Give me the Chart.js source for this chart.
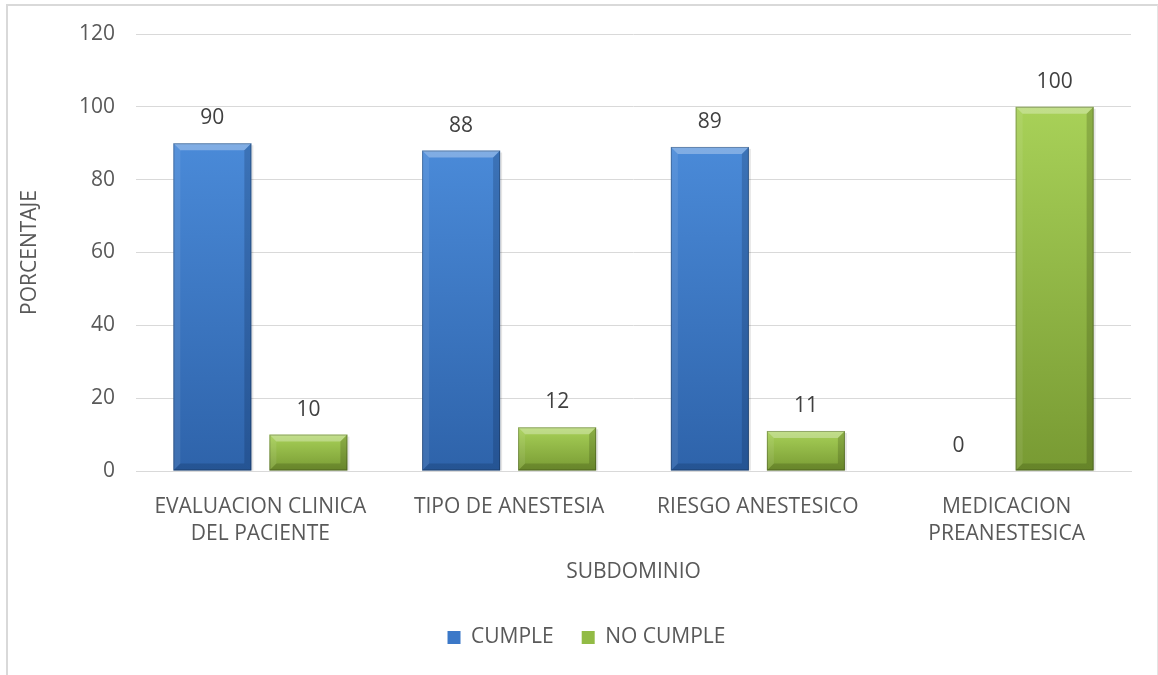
<!DOCTYPE html>
<html>
<head>
<meta charset="utf-8">
<script src="https://cdn.jsdelivr.net/npm/chart.js@4/dist/chart.umd.min.js"></script>
<style>
  body { margin: 0; background: #fff; }
  #frame {
    position: absolute; left: 6px; top: 4px; width: 1149px; height: 720px;
    border-left: 2px solid #d9d9d9; border-top: 2px solid #d9d9d9; border-right: 1px solid #e4e4e4;
  }
  #chart { position: absolute; left: 0; top: 0; }
</style>
</head>
<body>
<div id="frame"></div>
<canvas id="chart" width="1158" height="675"></canvas>
<script>
const categories = [
    ["EVALUACION CLINICA", "DEL PACIENTE"],
    "TIPO DE ANESTESIA",
    "RIESGO ANESTESICO",
    ["MEDICACION", "PREANESTESICA"]
];
const cumple = [90, 88, 89, 0];
const noCumple = [10, 12, 11, 100];
const yTicks = [0, 20, 40, 60, 80, 100, 120];

const FONT = "'Open Sans', 'Noto Sans', sans-serif";
const TEXT = '#595959';
const SIZE = 21;

// top / bottom shades of each series
const blue = { top: '#4a8ad8', bottom: '#2e63aa', light: 'rgba(255,255,255,0.30)', dark: 'rgba(10,30,70,0.22)' };
const green = { top: '#a8d158', bottom: '#789a33', light: 'rgba(255,255,255,0.30)', dark: 'rgba(40,55,10,0.22)' };

function barGradient(shade) {
    return function (ctx) {
        const chart = ctx.chart;
        const y = chart.scales.y;
        if (!y || ctx.parsed === undefined) return shade.top;
        const top = y.getPixelForValue(ctx.parsed.y);
        const base = y.getPixelForValue(0);
        if (!isFinite(top) || base - top < 1) return shade.top;
        const g = chart.ctx.createLinearGradient(0, top, 0, base);
        g.addColorStop(0, shade.top);
        g.addColorStop(1, shade.bottom);
        return g;
    };
}

// beveled edges drawn over each bar
const bevel = {
    id: 'bevel',
    afterDatasetsDraw(chart) {
        const ctx = chart.ctx;
        chart.data.datasets.forEach((ds, i) => {
            const shade = i === 0 ? blue : green;
            chart.getDatasetMeta(i).data.forEach(bar => {
                const { x, y, base, width } = bar.getProps(['x', 'y', 'base', 'width'], true);
                const h = base - y;
                if (h < 2) return;
                const l = x - width / 2, r = x + width / 2;
                const b = Math.min(7, h / 2);
                ctx.save();
                // top facet
                ctx.fillStyle = shade.light;
                ctx.beginPath();
                ctx.moveTo(l, y); ctx.lineTo(r, y); ctx.lineTo(r - b, y + b); ctx.lineTo(l + b, y + b);
                ctx.closePath(); ctx.fill();
                // left facet
                ctx.fillStyle = 'rgba(255,255,255,0.08)';
                ctx.beginPath();
                ctx.moveTo(l, y); ctx.lineTo(l + b, y + b); ctx.lineTo(l + b, base - b); ctx.lineTo(l, base);
                ctx.closePath(); ctx.fill();
                // right facet
                ctx.fillStyle = shade.dark;
                ctx.beginPath();
                ctx.moveTo(r, y); ctx.lineTo(r - b, y + b); ctx.lineTo(r - b, base - b); ctx.lineTo(r, base);
                ctx.closePath(); ctx.fill();
                // bottom facet
                ctx.beginPath();
                ctx.moveTo(l, base); ctx.lineTo(l + b, base - b); ctx.lineTo(r - b, base - b); ctx.lineTo(r, base);
                ctx.closePath(); ctx.fill();
                // thin outline and soft shadow on the right
                ctx.strokeStyle = 'rgba(0,0,0,0.25)';
                ctx.lineWidth = 1;
                ctx.strokeRect(l + 0.5, y + 0.5, width - 1, h - 1);
                ctx.fillStyle = 'rgba(0,0,0,0.10)';
                ctx.fillRect(r, y + 2, 2, h - 2);
                ctx.restore();
            });
        });
    }
};

// value labels above the bars
const valueLabels = {
    id: 'valueLabels',
    afterDatasetsDraw(chart) {
        const ctx = chart.ctx;
        ctx.save();
        ctx.font = SIZE + 'px ' + FONT;
        ctx.fillStyle = '#404040';
        ctx.textAlign = 'center';
        ctx.textBaseline = 'middle';
        chart.data.datasets.forEach((ds, i) => {
            chart.getDatasetMeta(i).data.forEach((bar, j) => {
                ctx.fillText(String(ds.data[j]), bar.x, bar.y - 25);
            });
        });
        ctx.restore();
    }
};

// legend sits a little right of the canvas centre
const legendShift = {
    id: 'legendShift',
    afterLayout(chart) {
        chart.legend.left += 15;
        chart.legend.right += 15;
    }
};

new Chart(document.getElementById('chart'), {
    type: 'bar',
    data: {
        labels: categories,
        datasets: [
            { label: 'CUMPLE', data: cumple, backgroundColor: barGradient(blue), legendColor: '#3b78c8' },
            { label: 'NO CUMPLE', data: noCumple, backgroundColor: barGradient(green), legendColor: '#92bb45' }
        ]
    },
    options: {
        responsive: false,
        animation: false,
        layout: { padding: { left: 12, right: 27, top: 34, bottom: 17 } },
        datasets: { bar: { categoryPercentage: 0.772, barPercentage: 0.8125 } },
        scales: {
            x: {
                grid: { display: false },
                border: { color: '#d9d9d9' },
                ticks: { color: TEXT, font: { family: FONT, size: SIZE, lineHeight: 1.3 }, padding: 14, maxRotation: 0 },
                title: { display: true, text: 'SUBDOMINIO', color: TEXT, font: { family: FONT, size: SIZE }, padding: { top: 0, bottom: 14 } },
                afterFit(scale) { scale.height = 128; }
            },
            y: {
                min: 0, max: 120,
                afterBuildTicks(scale) { scale.ticks = yTicks.map(v => ({ value: v })); },
                grid: { color: '#d9d9d9', drawTicks: false },
                border: { display: false },
                ticks: { color: TEXT, font: { family: FONT, size: SIZE }, padding: 21 },
                title: { display: true, text: 'PORCENTAJE', color: TEXT, font: { family: FONT, size: SIZE }, padding: { top: 5, bottom: 0 } },
                afterFit(scale) { scale.width = 124; }
            }
        },
        plugins: {
            legend: {
                position: 'bottom',
                labels: {
                    color: TEXT,
                    font: { family: FONT, size: SIZE },
                    boxWidth: 13, boxHeight: 13,
                    padding: 28,
                    generateLabels(chart) {
                        return chart.data.datasets.map((ds, i) => ({
                            text: ds.label, fillStyle: ds.legendColor, strokeStyle: ds.legendColor,
                            lineWidth: 0, fontColor: TEXT, datasetIndex: i
                        }));
                    }
                }
            },
            tooltip: { enabled: false }
        }
    },
    plugins: [bevel, valueLabels, legendShift]
});
</script>
</body>
</html>
